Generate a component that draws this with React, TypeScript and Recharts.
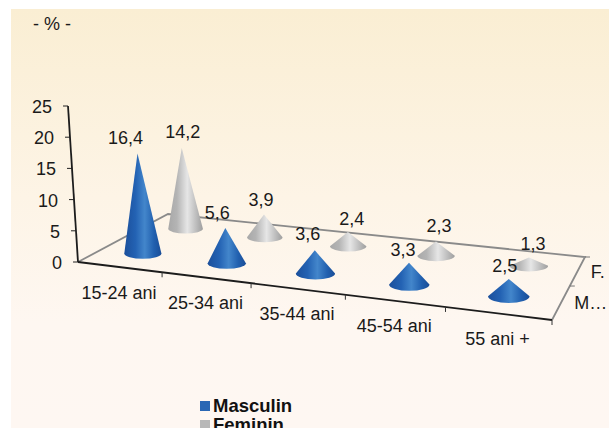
import React from 'react';
import { BarChart, Bar, XAxis, YAxis } from 'recharts';

const ageGroups = ['15-24 ani', '25-34 ani', '35-44 ani', '45-54 ani', '55 ani +'];
const masculin = [16.4, 5.6, 3.6, 3.3, 2.5];
const feminin = [14.2, 3.9, 2.4, 2.3, 1.3];
const valueTicks = [0, 5, 10, 15, 20, 25];
const depthLabels = ['M…', 'F.'];

const data = ageGroups.map((group, i) => ({
  group,
  masculin: masculin[i],
  feminin: feminin[i],
}));

const WIDTH = 609;
const HEIGHT = 428;
const PLOT_LEFT = 78;
const PLOT_RIGHT = 552;
const PLOT_TOP = 106;
const PLOT_BOTTOM = 262;
const CONE_WIDTH = 38;
const FONT = '"Liberation Sans", Arial, sans-serif';
const FONT_SIZE = 18;
const TEXT = '#1a1a1a';

// floor corners on screen, the flat plot is projected onto this quad
const P0 = [78, 262];
const P1 = [552, 320];
const P2 = [585, 257];
const P3 = [168, 214];

const dx1 = P1[0] - P2[0];
const dy1 = P1[1] - P2[1];
const dx2 = P3[0] - P2[0];
const dy2 = P3[1] - P2[1];
const sx = P0[0] - P1[0] + P2[0] - P3[0];
const sy = P0[1] - P1[1] + P2[1] - P3[1];
const det = dx1 * dy2 - dx2 * dy1;
const g = (sx * dy2 - dx2 * sy) / det;
const h = (dx1 * sy - sx * dy1) / det;

// u runs along the categories, v goes from the front edge to the back edge
const project = (u: number, v: number) => {
  const w = 1 + g * u + h * v;
  const x = P0[0] + (P1[0] - P0[0] + g * P1[0]) * u + (P3[0] - P0[0] + h * P3[0]) * v;
  const y = P0[1] + (P1[1] - P0[1] + g * P1[1]) * u + (P3[1] - P0[1] + h * P3[1]) * v;
  return { x: x / w, y: y / w, w };
};

// the verticals converge slightly, most on the left side
const leanAt = (x: number) => (500 - x) * 0.00015;

const comma = (v: number) => String(v).replace('.', ',');

const makeCone = (
  dataKey: 'masculin' | 'feminin',
  depth: number,
  gradient: string,
  labelShift: number[],
  labelRise: number[],
) => (props: any) => {
  const { x, width, height, index, payload } = props;
  const u = (x + width / 2 - PLOT_LEFT) / (PLOT_RIGHT - PLOT_LEFT);
  const base = project(u, depth);
  const rx = width / 2 / base.w;
  const ry = 5.6 / (base.w * base.w);
  const tall = height / base.w;
  const apexX = base.x - leanAt(base.x) * tall;
  const apexY = base.y - tall;
  return (
    <g>
      <path
        d={`M${base.x - rx},${base.y} L${apexX},${apexY} L${base.x + rx},${base.y} A${rx},${ry} 0 0 1 ${base.x - rx},${base.y} Z`}
        fill={`url(#${gradient})`}
      />
      <text
        x={apexX + labelShift[index]}
        y={apexY - labelRise[index]}
        textAnchor="middle"
        dominantBaseline="central"
        fontSize={FONT_SIZE}
        fontFamily={FONT}
        fill={TEXT}
      >
        {comma(payload[dataKey])}
      </text>
    </g>
  );
};

const MasculinCone = makeCone('masculin', 0.25, 'coneBlue', [-12, -8, -7, -6, -4], [15, 15, 16, 13, 13]);
const FemininCone = makeCone('feminin', 0.75, 'coneGrey', [1, -3, 4, 3, 4], [16, 15, 13, 16, 14]);

const ValueTick = (props: any) => {
  const { y, payload } = props;
  const shift = ((PLOT_BOTTOM - y) * 10) / (PLOT_BOTTOM - PLOT_TOP);
  const ax = PLOT_LEFT - shift;
  return (
    <g>
      <line x1={ax - 5} y1={y} x2={ax} y2={y} stroke="#222" strokeWidth={1} />
      <text
        x={ax - 16}
        y={y + 1}
        textAnchor="end"
        dominantBaseline="central"
        fontSize={FONT_SIZE}
        fontFamily={FONT}
        fill={TEXT}
      >
        {payload.value}
      </text>
    </g>
  );
};

const CategoryTick = (props: any) => {
  const { x, payload } = props;
  const u = (x - PLOT_LEFT) / (PLOT_RIGHT - PLOT_LEFT);
  const p = project(u, 0);
  return (
    <text
      x={p.x - 0.5}
      y={p.y + 25.5}
      textAnchor="middle"
      dominantBaseline="central"
      fontSize={FONT_SIZE}
      fontFamily={FONT}
      fill={TEXT}
    >
      {payload.value}
    </text>
  );
};

// floor outline, the slanted value axis and the depth axis
const Frame = () => {
  const corners = [project(0, 0), project(1, 0), project(1, 1), project(0, 1)];
  const edgeTicks = ageGroups.map((_, i) => project((i + 1) / ageGroups.length, 0));
  return (
    <g>
      <polyline
        points={`${corners[0].x},${corners[0].y} ${corners[3].x},${corners[3].y} ${corners[2].x},${corners[2].y} ${corners[1].x},${corners[1].y}`}
        fill="none"
        stroke="#8a8a8a"
        strokeWidth={1.8}
      />
      <line x1={corners[0].x} y1={corners[0].y} x2={corners[1].x} y2={corners[1].y} stroke="#1c1c1c" strokeWidth={1.8} />
      <line x1={PLOT_LEFT} y1={PLOT_BOTTOM} x2={PLOT_LEFT - 10} y2={PLOT_TOP} stroke="#1c1c1c" strokeWidth={1.8} />
      {edgeTicks.map((p, i) => (
        <line key={i} x1={p.x} y1={p.y} x2={p.x} y2={p.y + 5} stroke="#333" strokeWidth={1} />
      ))}
      {[0.5, 1].map((v) => {
        const p = project(1, v);
        return <line key={v} x1={p.x} y1={p.y} x2={p.x + 5} y2={p.y} stroke="#777" strokeWidth={1} />;
      })}
      {depthLabels.map((label, i) => {
        const p = project(1, i === 0 ? 0.25 : 0.75);
        return (
          <text
            key={label}
            x={p.x + 13}
            y={p.y + 1}
            dominantBaseline="central"
            fontSize={FONT_SIZE}
            fontFamily={FONT}
            fill={TEXT}
          >
            {label}
          </text>
        );
      })}
    </g>
  );
};

const legendItems = [
  { name: 'Masculin', color: '#2a67b4' },
  { name: 'Feminin', color: '#b8b8b8' },
];

export default function App() {
  return (
    <div
      style={{
        position: 'absolute',
        left: 0,
        top: 0,
        width: WIDTH,
        height: HEIGHT,
        overflow: 'hidden',
        background: '#fff',
      }}
    >
      <div
        style={{
          position: 'absolute',
          left: 11,
          top: 9,
          right: 0,
          bottom: 0,
          background: 'linear-gradient(180deg, #faeed3 0%, #fdf4e6 45%, #fef7f1 75%, #fef7f2 100%)',
        }}
      />
      <div
        style={{
          position: 'absolute',
          left: 33,
          top: 14,
          fontFamily: FONT,
          fontSize: FONT_SIZE,
          color: TEXT,
          whiteSpace: 'pre',
        }}
      >
        - % -
      </div>
      <div style={{ position: 'absolute', left: 0, top: 0 }}>
        <BarChart
          width={WIDTH}
          height={HEIGHT}
          data={data}
          barSize={CONE_WIDTH}
          barGap={-CONE_WIDTH}
          margin={{ left: PLOT_LEFT - 40, right: WIDTH - PLOT_RIGHT, top: PLOT_TOP, bottom: HEIGHT - PLOT_BOTTOM - 30 }}
        >
          <defs>
            <linearGradient id="coneBlue" x1="0" y1="0" x2="1" y2="0">
              <stop offset="0%" stopColor="#1b4f9b" />
              <stop offset="30%" stopColor="#2362b3" />
              <stop offset="55%" stopColor="#4386cb" />
              <stop offset="80%" stopColor="#2160af" />
              <stop offset="100%" stopColor="#1a4d97" />
            </linearGradient>
            <linearGradient id="coneGrey" x1="0" y1="0" x2="1" y2="0">
              <stop offset="0%" stopColor="#a8a8a8" />
              <stop offset="25%" stopColor="#b4b4b4" />
              <stop offset="55%" stopColor="#e6e6e6" />
              <stop offset="100%" stopColor="#9e9e9e" />
            </linearGradient>
          </defs>
          <Frame />
          <XAxis
            dataKey="group"
            height={30}
            axisLine={false}
            tickLine={false}
            interval={0}
            tick={CategoryTick}
          />
          <YAxis
            width={40}
            domain={[0, 25]}
            ticks={valueTicks}
            axisLine={false}
            tickLine={false}
            tick={ValueTick}
          />
          <Bar dataKey="feminin" isAnimationActive={false} shape={FemininCone} />
          <Bar dataKey="masculin" isAnimationActive={false} shape={MasculinCone} />
        </BarChart>
      </div>
      <div style={{ position: 'absolute', left: 200, top: 396, fontFamily: FONT }}>
        {legendItems.map((item) => (
          <div key={item.name} style={{ display: 'flex', alignItems: 'center', height: 19 }}>
            <span style={{ width: 10, height: 10, background: item.color, marginRight: 3 }} />
            <span style={{ fontSize: 18.5, fontWeight: 700, color: '#111', lineHeight: '19px' }}>{item.name}</span>
          </div>
        ))}
      </div>
    </div>
  );
}
